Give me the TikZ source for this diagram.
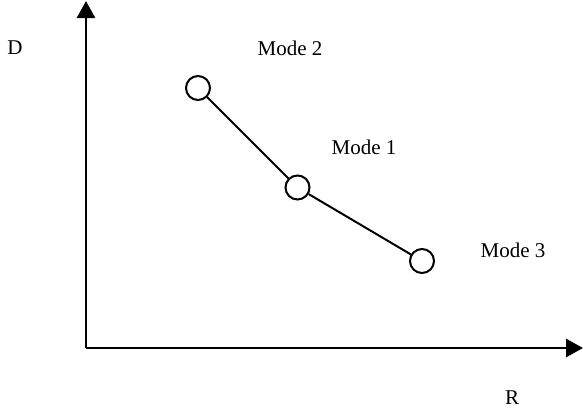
\documentclass[tikz,border=0pt]{standalone}
\usepackage{fontspec}
\setmainfont{Liberation Serif}
\usetikzlibrary{arrows.meta}
\begin{document}
\begin{tikzpicture}[x=1pt,y=-1pt,
  axis/.style={line width=2.8pt,-{Triangle[length=17pt,width=18pt]}},
  mode/.style={circle,draw,line width=2pt,minimum size=24pt,inner sep=0pt},
  link/.style={line width=2pt},
  lbl/.style={font=\fontsize{21}{25}\selectfont,inner sep=0pt}]
\useasboundingbox (0,0) rectangle (583,413);
\coordinate (o) at (86,348);
\coordinate (ytip) at (86,1);
\coordinate (xtip) at (583,348);
\draw[axis] (o) -- (ytip);
\draw[axis] (o) -- (xtip);
\node[mode] (m2) at (198,88) {};
\node[mode] (m1) at (297.5,187.5) {};
\node[mode] (m3) at (422,261) {};
\draw[link] (m2) -- (m1);
\draw[link] (m1) -- (m3);
\node[lbl] (d) at (15,48) {D};
\node[lbl] (l2) at (290,48) {Mode 2};
\node[lbl] (l1) at (364,147) {Mode 1};
\node[lbl] (l3) at (513,250) {Mode 3};
\node[lbl] (r) at (512,398) {R};
\end{tikzpicture}
\end{document}
